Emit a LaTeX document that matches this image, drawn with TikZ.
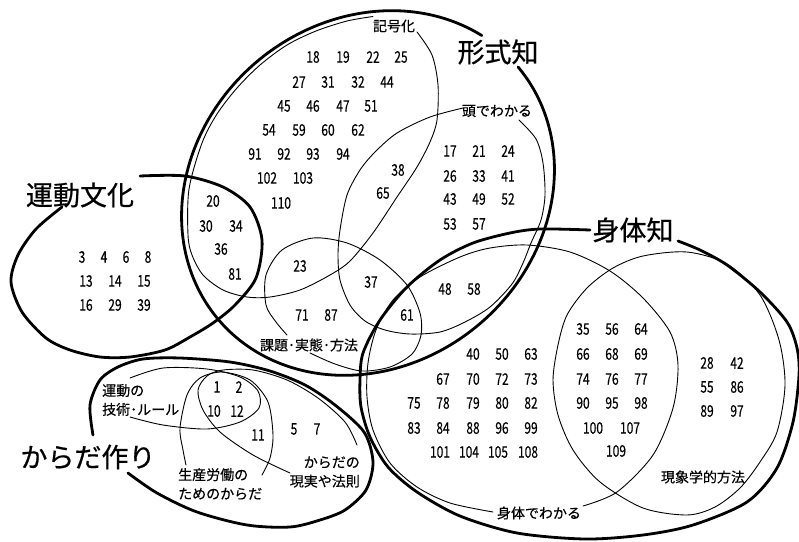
\documentclass[tikz,border=0pt]{standalone}
\usepackage{fontspec}
\setmainfont{Noto Sans CJK JP}[FakeBold=0.35]
\newfontfamily\numfont{Noto Sans CJK JP}[FakeStretch=0.75,FakeBold=0.45]
\newfontfamily\bigfont{Noto Sans CJK JP}[FakeBold=0.6]
\begin{document}
\begin{tikzpicture}[x=1pt,y=-1pt,
  thickln/.style={line width=2.8pt,line join=round,line cap=round},
  thinln/.style={line width=0.9pt,line cap=round},
  num/.style={font=\numfont\fontsize{16}{16}\selectfont,inner sep=0pt},
  lbl/.style={font=\fontsize{14}{19}\selectfont,inner sep=0pt},
  big/.style={font=\bigfont\fontsize{27}{27}\selectfont,inner sep=0pt}]
\useasboundingbox[fill=white] (0,0) rectangle (799,541);

% 形式知 (thick ellipse, gap for label)
\draw[thickln] plot[domain=16:360,samples=170,smooth,variable=\t]
  ({368+150.1*cos(\t)-110.6*sin(\t)},{193-126*cos(\t)-131.8*sin(\t)});

% 記号化
\draw[thinln] plot[smooth] coordinates {(417,32) (432,55) (438,85) (437,120) (430,142) (417,167) (397,197) (373,233) (350,261) (330,275) (300,290) (270,297) (247,297) (223,290) (203,275) (192,255) (188,235) (189,189) (202,143) (217,114) (237,88) (260,65) (287,45) (316,31) (347,21) (373,16.5)};

% 頭でわかる
\draw[thinln] plot[smooth] coordinates {(519,120) (536,139) (543,163) (545,195) (541,220) (531,243) (523,263) (512,284) (490,307) (465,322) (440,332) (410,334) (385,330) (365,321) (350,305) (340,280) (338,255) (340,230) (347,195) (360,170) (375,152) (397,133) (430,117) (463,108)};

% 課題・実態・方法
\draw[thinln] plot[smooth] coordinates {(310,353) (335,364) (362,371) (390,367) (412,354) (421,335) (420,313) (407,285) (380,260) (347,243) (313,238) (282,250) (266,275) (266,305) (276,322) (287,335)};

% 運動文化 (thick)
\draw[thickln] plot[smooth] coordinates {(140,176) (185,176) (223,187) (250,207) (262,240) (256,278) (235,305) (213,323) (190,337) (165,350) (130,357) (100,357) (70,350) (46,338) (22,312) (11,282) (18,255) (36,229) (62,207)};

% 身体知 (thick)
\draw[thickln] plot[smooth] coordinates {(678,241) (700,250) (727,265) (760,292) (787,322) (797,348) (799,375) (793,422) (777,468) (747,502) (693,525) (643,535) (585,539) (517,533) (460,516) (417,492) (388,467) (370,437) (361,407) (360,380) (363,353) (380,320) (407,287) (440,260) (473,243) (510,233) (540,229) (590,230)};

% 身体でわかる
\draw[thinln] plot[smooth] coordinates {(583,506) (617,492) (653,455) (673,408) (678,365) (670,332) (643,298) (610,271) (570,252) (527,245) (490,248) (460,257) (420,277) (393,300) (376,330) (368,363) (367,397) (373,430) (390,463) (417,487) (450,503) (493,512)};

% 現象学的方法
\draw[thinln] plot[smooth cycle] coordinates {(553,380) (558,345) (567,315) (587,288) (613,268) (643,256) (687,252) (727,264) (760,295) (779,340) (785,385) (777,432) (760,462) (740,488) (715,507) (687,515) (643,508) (600,482) (573,450) (558,415)};

% からだ作り (thick)
\draw[thickln] plot[smooth] coordinates {(128,473) (157,493) (197,512) (247,525) (290,527) (320,520) (345,510) (366,490) (373,462) (364,432) (335,405) (305,385) (270,371) (230,362) (180,358) (143,359) (118,367) (100,380) (90,405) (93,435)};

% 運動の技術・ルール
\draw[thinln] plot[smooth] coordinates {(130,378) (163,368) (207,369) (240,377) (258,391) (259,408) (240,422) (207,429) (163,425) (130,417)};

% 生産労働のためのからだ
\draw[thinln] plot[smooth] coordinates {(262,475) (270,458) (273,435) (268,402) (250,380) (222,372) (200,378) (187,395) (180,428) (183,450) (186,465)};

% からだの現実や法則
\draw[thinln] plot[smooth] coordinates {(357,445) (345,422) (318,398) (287,380) (253,370) (223,370) (207,376) (198,390) (203,410) (220,432) (253,455) (290,473)};

% big labels
\node[big] (keishiki) at (498,52) {形式知};
\node[big] (undobunka) at (80,195) {運動文化};
\node[big] (shintaichi) at (633,230) {身体知};
\node[big] (karadazukuri) at (88,457) {からだ作り};

% small labels
\node[lbl] (kigouka) at (394,26) {記号化};
\node[lbl] (atama) at (497,111) {頭でわかる};
\node[lbl] (kadai) at (309,345) {課題･実態･方法};
\node[lbl] (shintai) at (539,513) {身体でわかる};
\node[lbl] (genshou) at (703,477) {現象学的方法};
\node[lbl,anchor=west,align=left] (gijutsu) at (102,400) {運動の\\技術･ルール};
\node[lbl,anchor=west,align=left] (seisan) at (178,484) {生産労働の\\ためのからだ};
\node[lbl,anchor=east,align=right] (genjitsu) at (360,472) {からだの\\現実や法則};

% numbers
\foreach \t/\x/\y in {18/313/57,19/343/57,22/373/57,25/401/57,
  27/299/82,31/328/82,32/358/82,44/387/82,
  45/284/106,46/313/106,47/343/106,51/371/106,
  54/269/130,59/299/130,60/328/130,62/358/130,
  91/255/154,92/284/154,93/313/154,94/343/154,
  102/267/178,103/303/178,110/281/203,
  20/213/201,30/206/226,34/236/226,36/221/249,81/235/274,
  38/398/170,65/383/193,
  17/450/151,21/479/151,24/508/151,
  26/450/176,33/479/176,41/508/176,
  43/450/199,49/479/199,52/508/199,
  53/450/224,57/479/224,
  3/82/257,4/104/257,6/126/257,8/148/257,
  13/86/281,14/115/281,15/144/281,
  16/86/305,29/115/305,39/144/305,
  23/300/266,37/371/282,71/302/315,87/331/315,
  48/445/289,58/474/289,61/407/315,
  40/473/354,50/502/354,63/531/354,
  67/443/379,70/473/379,72/502/379,73/531/379,
  75/414/403,78/443/403,79/473/403,80/502/403,82/531/403,
  83/414/428,84/443/428,88/473/428,96/502/428,99/531/428,
  101/440/452,104/469/452,105/498/452,108/528/452,
  35/583/329,56/612/329,64/641/329,
  66/583/354,68/612/354,69/641/354,
  74/583/379,76/612/379,77/641/379,
  90/583/403,95/612/403,98/641/403,
  100/593/428,107/630/428,109/616/451,
  28/707/363,42/737/363,55/707/387,86/737/387,89/707/411,97/737/411,
  1/217/387,2/239/387,10/214/411,12/237/411,11/258/435,5/294/429,7/317/429}
  \node[num] (n\t) at (\x,\y) {\t};
\end{tikzpicture}
\end{document}
